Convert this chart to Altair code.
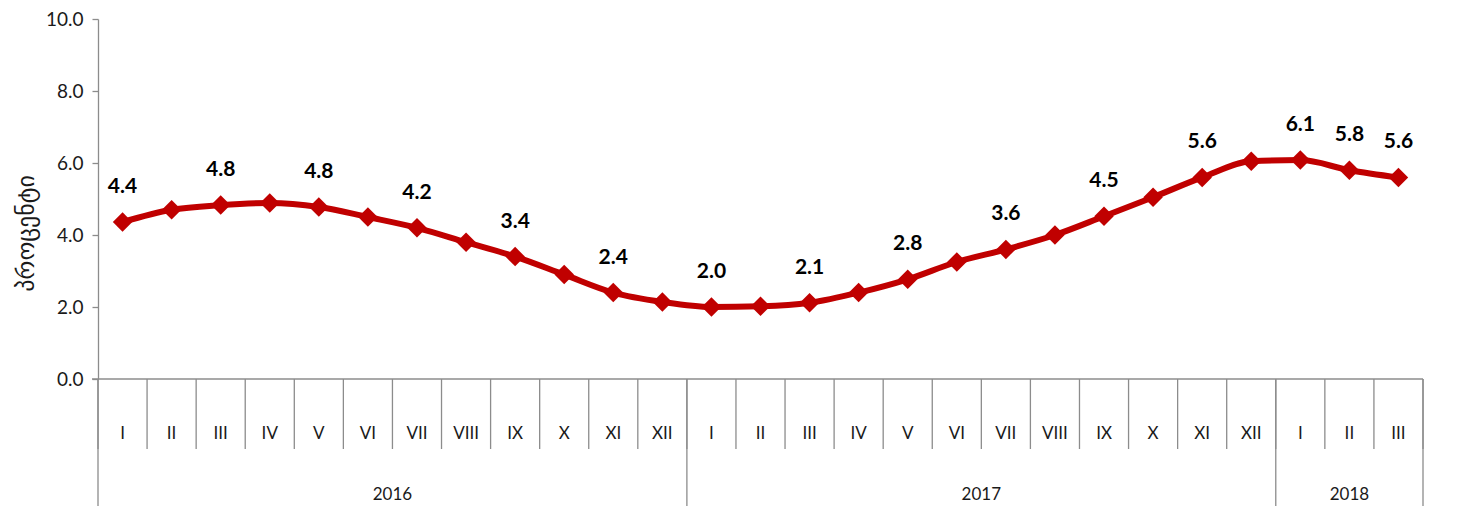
import altair as alt
import pandas as pd

months = ["I", "II", "III", "IV", "V", "VI", "VII", "VIII", "IX", "X", "XI", "XII",
          "I", "II", "III", "IV", "V", "VI", "VII", "VIII", "IX", "X", "XI", "XII",
          "I", "II", "III"]
years = ["2016"] * 12 + ["2017"] * 12 + ["2018"] * 3
values = [4.36, 4.70, 4.83, 4.89, 4.78, 4.50, 4.20, 3.80, 3.40, 2.90, 2.40, 2.14,
          2.00, 2.02, 2.12, 2.40, 2.77, 3.25, 3.60, 4.00, 4.52, 5.05, 5.60, 6.05,
          6.08, 5.80, 5.60]
labelled = [1, 0, 1, 0, 1, 0, 1, 0, 1, 0, 1, 0,
            1, 0, 1, 0, 1, 0, 1, 0, 1, 0, 1, 0,
            1, 1, 1]
y_title = "პროცენტი"

W, H = 1325, 360
RED = "#C00000"
GRAY = "#8c8c8c"
TXT = "#1a1a1a"
FONT = "Lato, DejaVu Sans, sans-serif"

n = len(values)
df = pd.DataFrame({"idx": list(range(n)), "month": months, "year": years,
                   "value": values, "lab": labelled})
df_lab = df[df["lab"] == 1]

bounds = pd.DataFrame({"b": [i - 0.5 for i in range(n + 1)]})
year_names = sorted(set(years))
year_edges = [-0.5]
year_centers = []
for yname in year_names:
    ids = [i for i, yy in enumerate(years) if yy == yname]
    year_centers.append((ids[0] + ids[-1]) / 2)
    year_edges.append(ids[-1] + 0.5)
df_years = pd.DataFrame({"year": year_names, "c": year_centers})
df_yedges = pd.DataFrame({"b": year_edges})

xs = alt.Scale(domain=[-0.5, n - 0.5], nice=False, zero=False)
ys = alt.Scale(domain=[0, 10], nice=False)

yaxis = alt.Axis(values=[0, 2, 4, 6, 8, 10], format=".1f", grid=False,
                 domainColor=GRAY, tickColor=GRAY, tickSize=6, domainWidth=1.3,
                 tickWidth=1.3, labelFont=FONT, labelFontSize=19,
                 labelColor=TXT, labelPadding=9, title=y_title,
                 titleFont="DejaVu Sans", titleFontSize=24, titleFontWeight="normal",
                 titleColor=TXT, titleX=-60, titleY=214, titleAngle=-90)

line = alt.Chart(df).mark_line(color=RED, strokeWidth=6, interpolate="monotone").encode(
    x=alt.X("idx:Q", scale=xs, axis=None),
    y=alt.Y("value:Q", scale=ys, axis=yaxis),
)
pts = alt.Chart(df).mark_point(shape="diamond", filled=True, color=RED, size=380,
                               opacity=1).encode(
    x=alt.X("idx:Q", scale=xs), y=alt.Y("value:Q", scale=ys))
labels = alt.Chart(df_lab).mark_text(dy=-35, fontSize=21, fontWeight="bold",
                                     font=FONT, color="#000000").encode(
    x=alt.X("idx:Q", scale=xs), y=alt.Y("value:Q", scale=ys),
    text=alt.Text("value:Q", format=".1f"))

zero_line = alt.Chart(df.head(1)).mark_rule(color=GRAY, strokeWidth=1.3).encode(
    x=alt.value(-6), x2=alt.value(W), y=alt.value(H))
month_sep = alt.Chart(bounds).mark_rule(color=GRAY, strokeWidth=1.3).encode(
    x=alt.X("b:Q", scale=xs), y=alt.value(H), y2=alt.value(H + 70))
year_sep = alt.Chart(df_yedges).mark_rule(color=GRAY, strokeWidth=1.3).encode(
    x=alt.X("b:Q", scale=xs), y=alt.value(H), y2=alt.value(H + 140))
month_txt = alt.Chart(df).mark_text(fontSize=17, font=FONT, color=TXT).encode(
    x=alt.X("idx:Q", scale=xs), y=alt.value(H + 55), text="month:N")
year_txt = alt.Chart(df_years).mark_text(fontSize=17, font=FONT, color=TXT).encode(
    x=alt.X("c:Q", scale=xs), y=alt.value(H + 116), text="year:N")

chart = alt.layer(line, zero_line, month_sep, year_sep, month_txt, year_txt, pts, labels).properties(
    width=W, height=H,
    autosize=alt.AutoSizeParams(type="none"),
    padding={"left": 90, "top": 11, "right": 31, "bottom": 127},
).configure_view(strokeWidth=0)

chart.save("out.html", embed_options={"renderer": "svg", "actions": False})
